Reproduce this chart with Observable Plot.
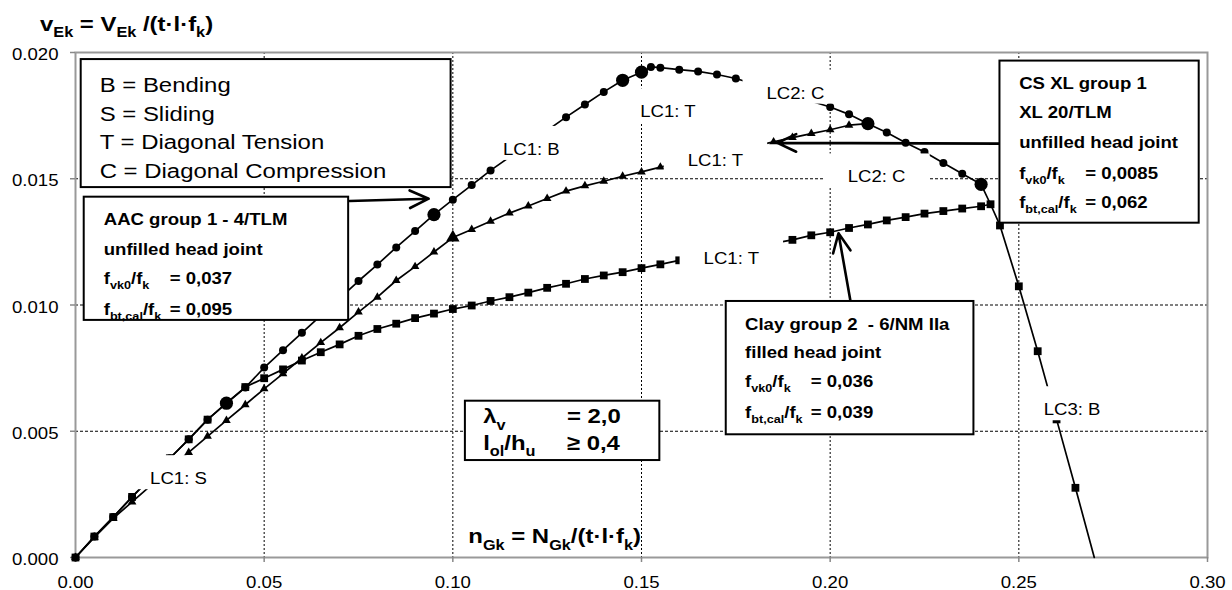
<!DOCTYPE html>
<html>
<head>
<meta charset="utf-8">
<script src="https://cdn.jsdelivr.net/npm/d3@7"></script>
<script src="https://cdn.jsdelivr.net/npm/@observablehq/plot@0.6"></script>
<style>
  html, body { margin: 0; padding: 0; background: #fff; }
  #chart { width: 1232px; height: 590px; }
</style>
</head>
<body>
<div id="chart"></div>
<script>
// Shear capacity v_Ek versus normal force n_Gk for three masonry walls,
// with load case (LC) failure modes marked along each curve.

const FONT = "'Liberation Sans', Arial, Helvetica, sans-serif";
const STRETCH = 1.14; // horizontal stretch applied to all lettering

const xTicks = [0, 0.05, 0.10, 0.15, 0.20, 0.25, 0.30];
const yTicks = [0, 0.005, 0.010, 0.015, 0.020];

// AAC group 1 - 4/TLM (circles)
const aacN = [0, 0.005, 0.01, 0.015, 0.025, 0.03, 0.035, 0.04, 0.045, 0.05, 0.055, 0.06,
  0.075, 0.08, 0.085, 0.09, 0.095, 0.1, 0.105, 0.11,
  0.13, 0.135, 0.14, 0.145, 0.15, 0.1525, 0.155, 0.16, 0.165, 0.17, 0.175,
  0.2, 0.205, 0.21, 0.215, 0.22, 0.225, 0.23, 0.235, 0.24];
const aacV = [0, 0.00083, 0.0016, 0.0024, 0.00393, 0.00468, 0.00546, 0.00611, 0.00673, 0.00752, 0.00821, 0.0089,
  0.01095, 0.0116, 0.01228, 0.01293, 0.01358, 0.01417, 0.01475, 0.01533,
  0.01744, 0.01794, 0.01844, 0.0189, 0.01922, 0.01943, 0.0194, 0.01932, 0.01925, 0.01913, 0.01897,
  0.01784, 0.01755, 0.01718, 0.01683, 0.01643, 0.01606, 0.01562, 0.0152, 0.01478];
// points where the failure mode changes (large markers)
const aacSwitch = [0.04, 0.095, 0.145, 0.15, 0.21, 0.24];

// CS XL group 1 - XL 20/TLM (triangles)
const csN = [0, 0.005, 0.01, 0.015, 0.03, 0.035, 0.04, 0.045, 0.05, 0.055, 0.06, 0.065, 0.07, 0.075,
  0.08, 0.085, 0.09, 0.095, 0.1, 0.105, 0.11, 0.115, 0.12, 0.125, 0.13, 0.135, 0.14, 0.145, 0.15, 0.155,
  0.185, 0.19, 0.195, 0.2, 0.205];
const csV = [0, 0.0008, 0.00155, 0.0022, 0.00416, 0.0048, 0.00543, 0.00605, 0.00668, 0.00728, 0.0079, 0.00851, 0.0091, 0.00972,
  0.01031, 0.01097, 0.01152, 0.0121, 0.01267, 0.01299, 0.01332, 0.01364, 0.01392, 0.01422, 0.01451, 0.01472, 0.0149, 0.0151, 0.01527, 0.01546,
  0.01646, 0.01663, 0.01679, 0.01694, 0.01712];
const csSwitch = [0.1];

// Clay group 2 - 6/NM IIa (squares)
const clayN = [0, 0.005, 0.01, 0.015, 0.025, 0.03, 0.035, 0.04, 0.045,
  0.05, 0.055, 0.06, 0.065, 0.07, 0.075, 0.08, 0.085, 0.09, 0.095, 0.1, 0.105, 0.11, 0.115,
  0.12, 0.125, 0.13, 0.135, 0.14, 0.145, 0.15, 0.155, 0.16,
  0.19, 0.195, 0.2, 0.205, 0.21, 0.215, 0.22, 0.225, 0.23, 0.235, 0.24, 0.2425,
  0.245, 0.25, 0.255, 0.26, 0.265, 0.27];
const clayV = [0, 0.00083, 0.0016, 0.0024, 0.00393, 0.00468, 0.00546, 0.00611, 0.00675,
  0.0071, 0.00745, 0.0078, 0.00813, 0.00844, 0.00878, 0.00905, 0.00926, 0.00948, 0.00966, 0.00984, 0.00998, 0.01016, 0.01031,
  0.01049, 0.01068, 0.01084, 0.01103, 0.01117, 0.0113, 0.01146, 0.01161, 0.01177,
  0.01258, 0.01276, 0.01288, 0.01305, 0.01319, 0.01335, 0.01348, 0.01362, 0.01372, 0.01382, 0.01391, 0.01399,
  0.01315, 0.01074, 0.00817, 0.00547, 0.00276, 0];

// load case / failure mode labels
const lcText = ["LC1: S", "LC1: B", "LC1: T", "LC1: T", "LC1: T", "LC2: C", "LC2: C", "LC3: B"];
const lcN = [0.0273, 0.1208, 0.157, 0.1696, 0.1738, 0.1908, 0.2123, 0.2641];
const lcV = [0.00311, 0.01615, 0.01764, 0.0157, 0.01182, 0.01838, 0.01506, 0.00584];

// pointer arrows from the notes to their curves
const arrowN1 = [0.07265, 0.245, 0.2054];
const arrowV1 = [0.01412, 0.01639, 0.01014];
const arrowN2 = [0.0936, 0.186, 0.2022];
const arrowV2 = [0.01421, 0.01642, 0.01284];

// note texts; _{...} marks a subscript
const modeLines = ["B = Bending", "S = Sliding", "T = Diagonal Tension", "C = Diagonal Compression"];
const aacLines = ["AAC group 1 - 4/TLM", "unfilled head joint"];
const aacParams = [["f_{vk0}/f_{k}", "= 0,037"], ["f_{bt,cal}/f_{k}", "= 0,095"]];
const csLines = ["CS XL group 1", "XL 20/TLM", "unfilled head joint"];
const csParams = [["f_{vk0}/f_{k}", "= 0,0085"], ["f_{bt,cal}/f_{k}", "= 0,062"]];
const clayLines = ["Clay group 2  - 6/NM IIa", "filled head joint"];
const clayParams = [["f_{vk0}/f_{k}", "= 0,036"], ["f_{bt,cal}/f_{k}", "= 0,039"]];
const wallParams = [["λ_{v}", "= 2,0"], ["l_{ol}/h_{u}", "≥ 0,4"]];
const yTitle = "v_{Ek} = V_{Ek} /(t·l·f_{k})";
const xTitle = "n_{Gk} = N_{Gk}/(t·l·f_{k})";

// note boxes, extents in chart units
const boxes = [
  {n1: 0.00151, n2: 0.09954, v1: 0.01972, v2: 0.01465},
  {n1: 0.00231, n2: 0.07239, v1: 0.01427, v2: 0.00939},
  {n1: 0.2450, n2: 0.2978, v1: 0.01966, v2: 0.01324},
  {n1: 0.17246, n2: 0.2381, v1: 0.01014, v2: 0.00486},
  {n1: 0.10333, n2: 0.15486, v1: 0.00619, v2: 0.00384}
];

const pts = (N, V) => N.map((n, i) => ({n, v: V[i]}));
const aacPts = pts(aacN, aacV);
const csPts = pts(csN, csV);
const clayPts = pts(clayN, clayV);
const clayPeak = clayPts[d3.maxIndex(clayV)];
const aacJoin = aacPts.find(d => d.n === 0.21);

// the LC2 curve runs into the peak of the clay curve; the CS XL curve ends on the LC2 curve
const aacLine = [...aacPts, clayPeak];
const csLine = [...csPts, aacJoin];
const clayDots = clayPts.filter(d => d.v > 0 || d.n === 0);

const lineStyle = {x: "n", y: "v", stroke: "black", strokeWidth: 1.7};

const chart = Plot.plot({
  width: 1232,
  height: 590,
  marginLeft: 75,
  marginRight: 25,
  marginTop: 52,
  marginBottom: 33,
  style: {fontFamily: FONT, fontSize: "16.3px", color: "black", background: "white", overflow: "visible"},
  x: {domain: [0, 0.3]},
  y: {domain: [0, 0.02]},
  marks: [
    Plot.gridX(xTicks.slice(1, -1), {stroke: "black", strokeOpacity: 1, strokeWidth: 1, strokeDasharray: "2,2"}),
    Plot.gridY(yTicks.slice(1, -1), {stroke: "black", strokeOpacity: 1, strokeWidth: 1, strokeDasharray: "3,2"}),
    Plot.frame({stroke: "#999", strokeWidth: 2}),
    Plot.axisX({ticks: xTicks, tickSize: 5, tickPadding: 14, tickFormat: d3.format(".2f"), stroke: "#888", strokeWidth: 1.5, label: null}),
    Plot.axisY({ticks: yTicks, tickSize: 5, tickPadding: 12, tickFormat: d3.format(".3f"), stroke: "#888", strokeWidth: 1.5, label: null}),
    Plot.line(aacLine, lineStyle),
    Plot.line(csLine, lineStyle),
    Plot.line(clayPts, lineStyle),
    Plot.dot(aacPts.filter(d => !aacSwitch.includes(d.n)), {x: "n", y: "v", r: 4, fill: "black", symbol: "circle"}),
    Plot.dot(aacPts.filter(d => aacSwitch.includes(d.n)), {x: "n", y: "v", r: 6.6, fill: "black", symbol: "circle"}),
    Plot.dot(csPts.filter(d => !csSwitch.includes(d.n)), {x: "n", y: "v", r: 3.2, fill: "black", symbol: "triangle"}),
    Plot.dot(csPts.filter(d => csSwitch.includes(d.n)), {x: "n", y: "v", r: 5, fill: "black", symbol: "triangle"}),
    Plot.dot(clayDots, {x: "n", y: "v", r: 4.4, fill: "black", symbol: "square"}),
    Plot.text(lcText, {x: (d, i) => lcN[i], y: (d, i) => lcV[i], text: d => d, fill: "black"}),
    Plot.arrow(arrowN1, {
      x1: (d, i) => arrowN1[i], y1: (d, i) => arrowV1[i],
      x2: (d, i) => arrowN2[i], y2: (d, i) => arrowV2[i],
      stroke: "black", strokeWidth: 2.6, headLength: 12, headAngle: 50
    }),
    Plot.rect(boxes, {x1: "n1", x2: "n2", y1: "v1", y2: "v2", fill: "white", stroke: "black", strokeWidth: 2})
  ]
});

document.getElementById("chart").appendChild(chart);
const svg = d3.select(chart);
const sx = chart.scale("x");
const sy = chart.scale("y");

// widen Plot's own text about its anchor, and back the LC labels with white boxes
svg.selectAll("text").each(function () {
  const b = this.getBBox();
  const anchor = getComputedStyle(this).textAnchor;
  const ax = anchor === "end" ? b.x + b.width : anchor === "middle" ? b.x + b.width / 2 : b.x;
  const old = this.getAttribute("transform") || "";
  const isYTick = this.closest('g[aria-label="y-axis tick label"]') !== null;
  if (/^LC\d/.test(this.textContent)) {
    const w = b.width * STRETCH;
    const left = anchor === "middle" ? ax - w / 2 : anchor === "end" ? ax - w : ax;
    d3.select(this.parentNode).insert("rect", () => this)
      .attr("transform", old || null)
      .attr("x", left - 24).attr("y", b.y - 14)
      .attr("width", w + 48).attr("height", b.height + 16)
      .attr("fill", "white");
  }
  const shift = isYTick ? " translate(0,2.5)" : "";
  this.setAttribute("transform", `${old}${shift} translate(${ax},0) scale(${STRETCH},1) translate(${-ax},0)`);
});

// rich text with subscripts, left anchored at (x, y) baseline
function rich(parent, x, y, str, size, weight) {
  const t = parent.append("text")
    .attr("transform", `translate(${x},${y}) scale(${STRETCH},1)`)
    .attr("text-anchor", "start")
    .attr("font-size", size)
    .attr("font-weight", weight)
    .attr("fill", "black")
    .style("white-space", "pre");
  const parts = str.split(/_\{([^}]*)\}/);
  let shift = 0;
  parts.forEach((s, i) => {
    if (!s) return;
    const sub = i % 2 === 1;
    const want = sub ? size * 0.3 : 0;
    t.append("tspan")
      .attr("dy", want - shift)
      .attr("font-size", sub ? size * 0.68 : size)
      .text(s);
    shift = want;
  });
  return t;
}

const notes = svg.append("g").attr("class", "notes").attr("text-anchor", "start");
const corner = b => [sx.apply(b.n1), sy.apply(b.v1)];

// failure mode key
{
  const [x, y] = corner(boxes[0]);
  [33.4, 61.9, 90.4, 118.9].forEach((dy, i) => rich(notes, x + 19, y + dy, modeLines[i], 21, "normal"));
}
// wall notes
function wallNote(b, padX, rows, lines, params, valueX) {
  const [x, y] = corner(b);
  lines.forEach((s, i) => rich(notes, x + padX, y + rows[i], s, 16.3, "bold"));
  params.forEach(([k, v], j) => {
    const r = rows[lines.length + j];
    rich(notes, x + padX, y + r, k, 16.3, "bold");
    rich(notes, x + valueX, y + r, v, 16.3, "bold");
  });
}
wallNote(boxes[1], 20, [28.3, 58, 87, 118.3], aacLines, aacParams, 86);
wallNote(boxes[2], 19.7, [28.6, 57.6, 87, 118.6, 147.6], csLines, csParams, 85.7);
wallNote(boxes[3], 19.3, [29, 57.3, 85.7, 117.3], clayLines, clayParams, 85);
// slenderness / overlap note
{
  const [x, y] = corner(boxes[4]);
  [22.6, 49.3].forEach((dy, i) => {
    rich(notes, x + 18.3, y + dy, wallParams[i][0], 21, "bold");
    rich(notes, x + 102, y + dy, wallParams[i][1], 21, "bold");
  });
}
// axis titles
rich(notes, 40, 31, yTitle, 21, "bold");
rich(notes, 468.3, 543.3, xTitle, 21, "bold");
</script>
</body>
</html>
